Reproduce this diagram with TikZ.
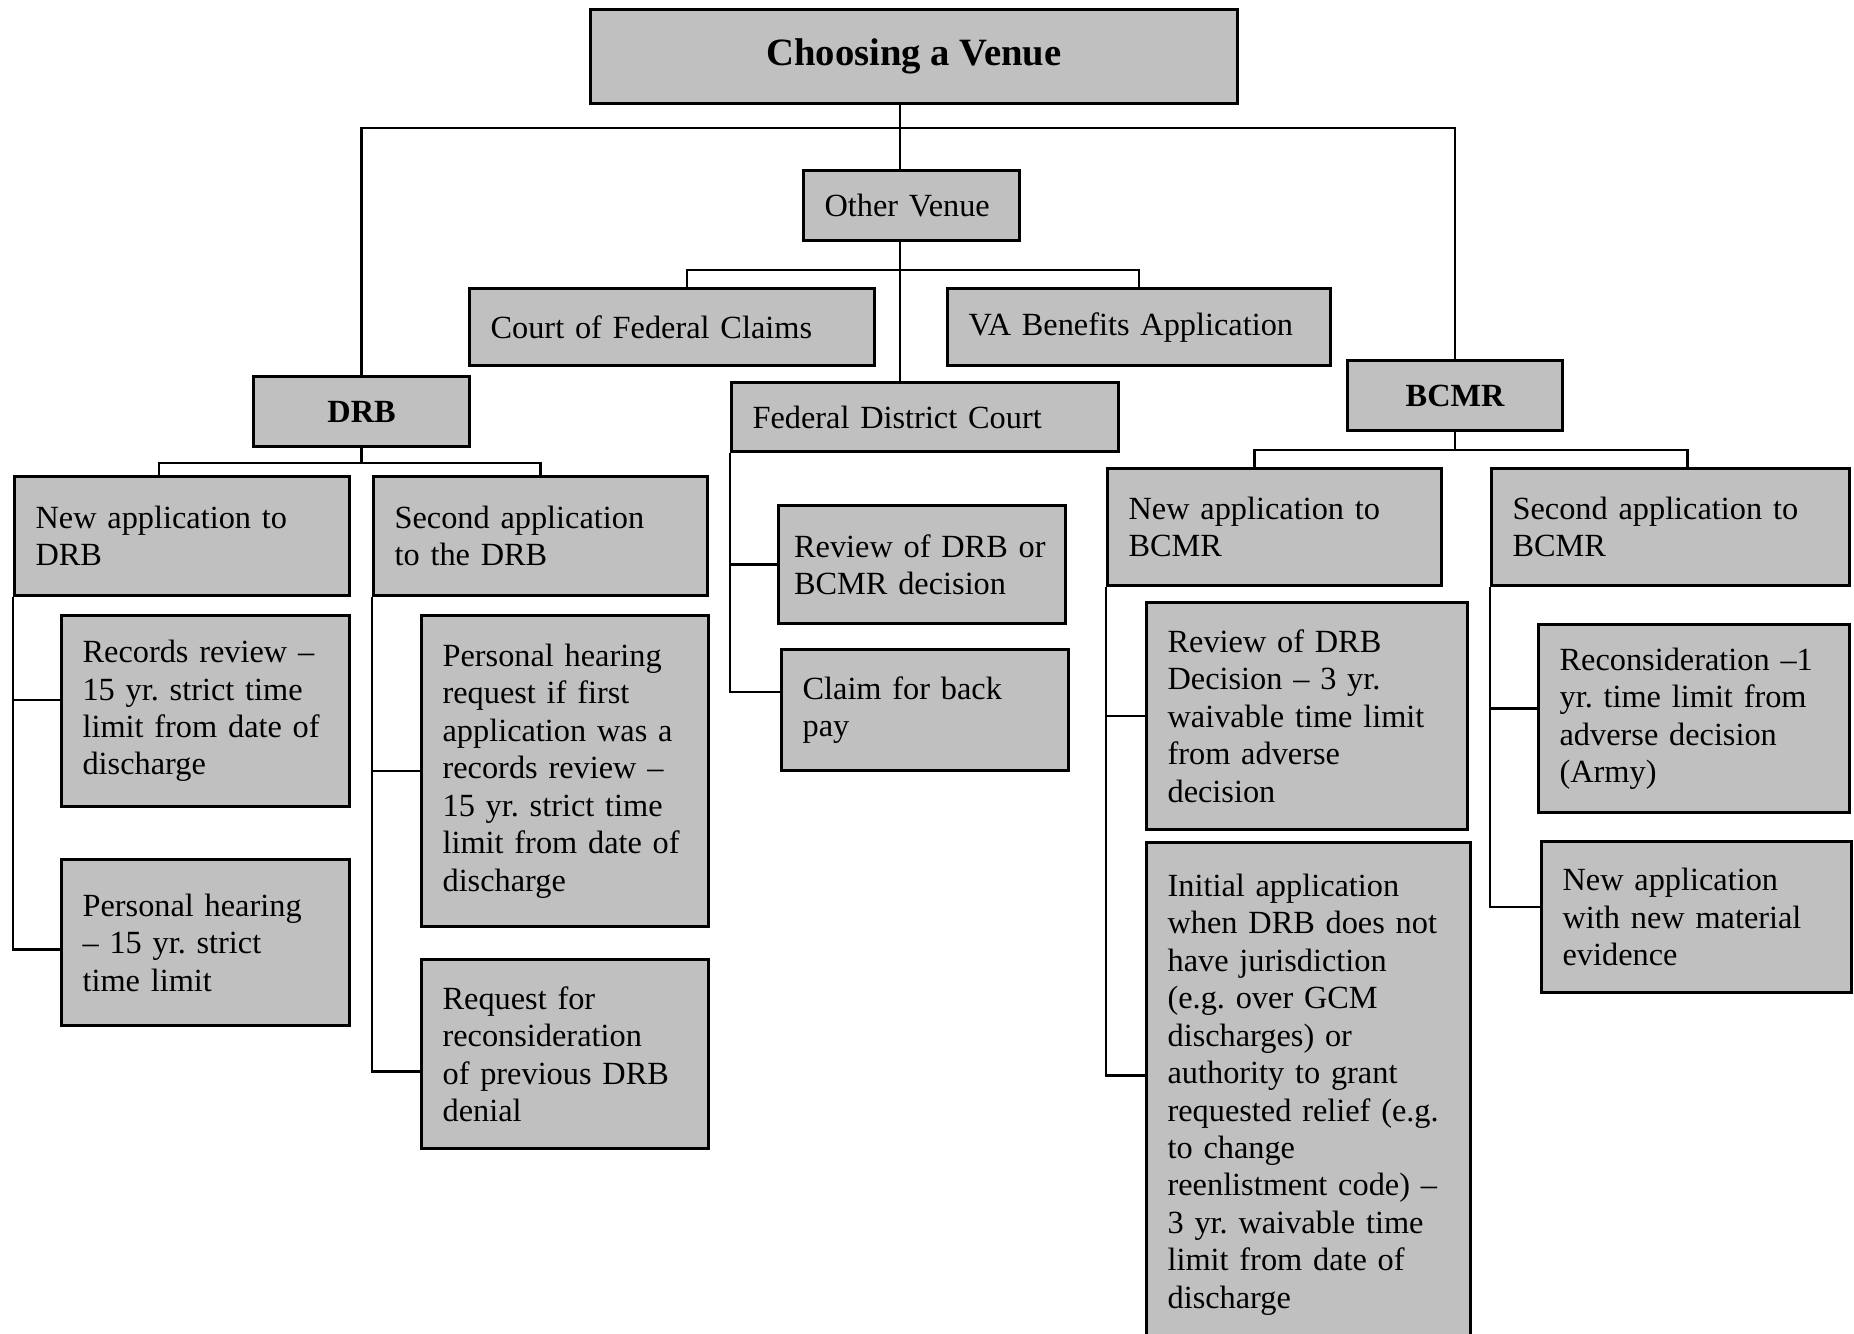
\documentclass[tikz,border=0pt]{standalone}
\usepackage{fontspec}
\setmainfont{Liberation Serif}
\usetikzlibrary{positioning,calc,backgrounds}
\definecolor{boxgray}{RGB}{192,192,192}
\frenchspacing

\begin{document}
\begin{tikzpicture}[
  cell/.style={
    draw, rectangle, fill=boxgray, line width=0.9pt, anchor=north west,
    inner xsep=2.1mm, inner ysep=0pt, align=left,
    font=\fontsize{9.2}{10.65}\selectfont
  },
  head/.style={
    draw, rectangle, fill=boxgray, line width=0.9pt, anchor=north west,
    inner sep=0pt, align=center,
    font=\fontsize{9.2}{10.65}\selectfont\bfseries
  },
  link/.style={line width=0.75pt}
]
\useasboundingbox (0,0) rectangle (18.54,-13.33);
\clip (0,0) rectangle (18.54,-13.33);

% Top level
\node[head, minimum width=6.47cm, minimum height=0.94cm, font=\fontsize{11}{13}\selectfont\bfseries] (venue) at (5.89,-0.08) {Choosing a Venue};
\node[cell, minimum width=2.16cm, minimum height=0.70cm, text width=1.74cm] (other) at (8.02,-1.69) {Other Venue};
\node[cell, minimum width=4.05cm, minimum height=0.77cm, text width=3.63cm] (claims) at (4.68,-2.87) {Court of Federal Claims};
\node[cell, minimum width=3.83cm, minimum height=0.77cm, text width=3.41cm] (vabenefits) at (9.46,-2.87) {VA Benefits Application};
\node[cell, minimum width=3.87cm, minimum height=0.69cm, text width=3.45cm] (district) at (7.30,-3.81) {Federal District Court};
\node[head, minimum width=2.16cm, minimum height=0.70cm] (drb) at (2.52,-3.75) {DRB};
\node[head, minimum width=2.15cm, minimum height=0.70cm] (bcmr) at (13.46,-3.59) {BCMR};

% DRB side
\node[cell, minimum width=3.35cm, minimum height=1.19cm, text width=2.93cm] (drbnew) at (0.13,-4.75) {New application to\\DRB};
\node[cell, minimum width=3.34cm, minimum height=1.19cm, text width=2.92cm] (drbsecond) at (3.72,-4.75) {Second application\\to the DRB};
\node[cell, minimum width=2.88cm, minimum height=1.91cm, text width=2.46cm] (records) at (0.60,-6.14) {Records review –\\15 yr. strict time\\limit from date of\\discharge};
\node[cell, minimum width=2.88cm, minimum height=1.66cm, text width=2.46cm] (hearing) at (0.60,-8.58) {Personal hearing\\– 15 yr. strict\\time limit};
\node[cell, minimum width=2.87cm, minimum height=3.11cm, text width=2.45cm] (hearreq) at (4.20,-6.14) {Personal hearing\\request if first\\application was a\\records review –\\15 yr. strict time\\limit from date of\\discharge};
\node[cell, minimum width=2.87cm, minimum height=1.89cm, text width=2.45cm] (reconsider) at (4.20,-9.58) {Request for\\reconsideration\\of previous DRB\\denial};

% District court
\node[cell, minimum width=2.87cm, minimum height=1.18cm, inner xsep=1.55mm, text width=2.56cm] (review) at (7.77,-5.04) {Review of DRB or\\BCMR decision};
\node[cell, minimum width=2.87cm, minimum height=1.21cm, text width=2.45cm] (backpay) at (7.80,-6.48) {Claim for back\\pay};

% BCMR side
\node[cell, minimum width=3.34cm, minimum height=1.17cm, text width=2.92cm] (bcmrnew) at (11.06,-4.67) {New application to\\BCMR};
\node[cell, minimum width=3.58cm, minimum height=1.17cm, text width=3.16cm] (bcmrsecond) at (14.90,-4.67) {Second application to\\BCMR};
\node[cell, minimum width=3.21cm, minimum height=2.27cm, text width=2.79cm] (drbdecision) at (11.45,-6.01) {Review of DRB\\Decision – 3 yr.\\waivable time limit\\from adverse\\decision};
\node[cell, minimum width=3.24cm, minimum height=5.04cm, text width=2.82cm] (initial) at (11.45,-8.41) {Initial application\\when DRB does not\\have jurisdiction\\(e.g. over GCM\\discharges) or\\authority to grant\\requested relief (e.g.\\to change\\reenlistment code) –\\3 yr. waivable time\\limit from date of\\discharge};
\node[cell, minimum width=3.11cm, minimum height=1.88cm, text width=2.69cm] (armyrecons) at (15.37,-6.23) {Reconsideration –1\\yr. time limit from\\adverse decision\\(Army)};
\node[cell, minimum width=3.10cm, minimum height=1.51cm, text width=2.68cm] (material) at (15.40,-8.40) {New application\\with new material\\evidence};

% Connectors
\begin{scope}[on background layer]
  \coordinate (trunk) at (9.00,-1.28);
  \draw[link] (trunk |- venue.south) -- (trunk |- district.north);
  \draw[link] (drb.north) |- (trunk) -| (bcmr.north);
  \coordinate (otherbar) at (9.00,-2.70);
  \draw[link] ([xshift=1.5mm]claims.north) |- (otherbar) -| (vabenefits.north);
  \draw[link] (drb.south) -- ++(0,-0.15) coordinate (drbbar);
  \draw[link] ([xshift=-2.3mm]drbnew.north) |- (drbbar) -| (drbsecond.north);
  \draw[link] (bcmr.south) -- ++(0,-0.18) coordinate (bcmrbar);
  \draw[link] ([xshift=-2mm]bcmrnew.north) |- (bcmrbar) -| ([xshift=1.7mm]bcmrsecond.north);
  \foreach \parent/\child/\shift in {drbnew/records/1.1, drbnew/hearing/-0.7,
      drbsecond/hearreq/0, drbsecond/reconsider/-1.75,
      district/review/0, district/backpay/1.8,
      bcmrnew/drbdecision/0, bcmrnew/initial/1.9,
      bcmrsecond/armyrecons/1, bcmrsecond/material/1} {
    \draw[link] (\parent.south west) |- ([yshift=\shift mm]\child.west);
  }
\end{scope}

\end{tikzpicture}
\end{document}
